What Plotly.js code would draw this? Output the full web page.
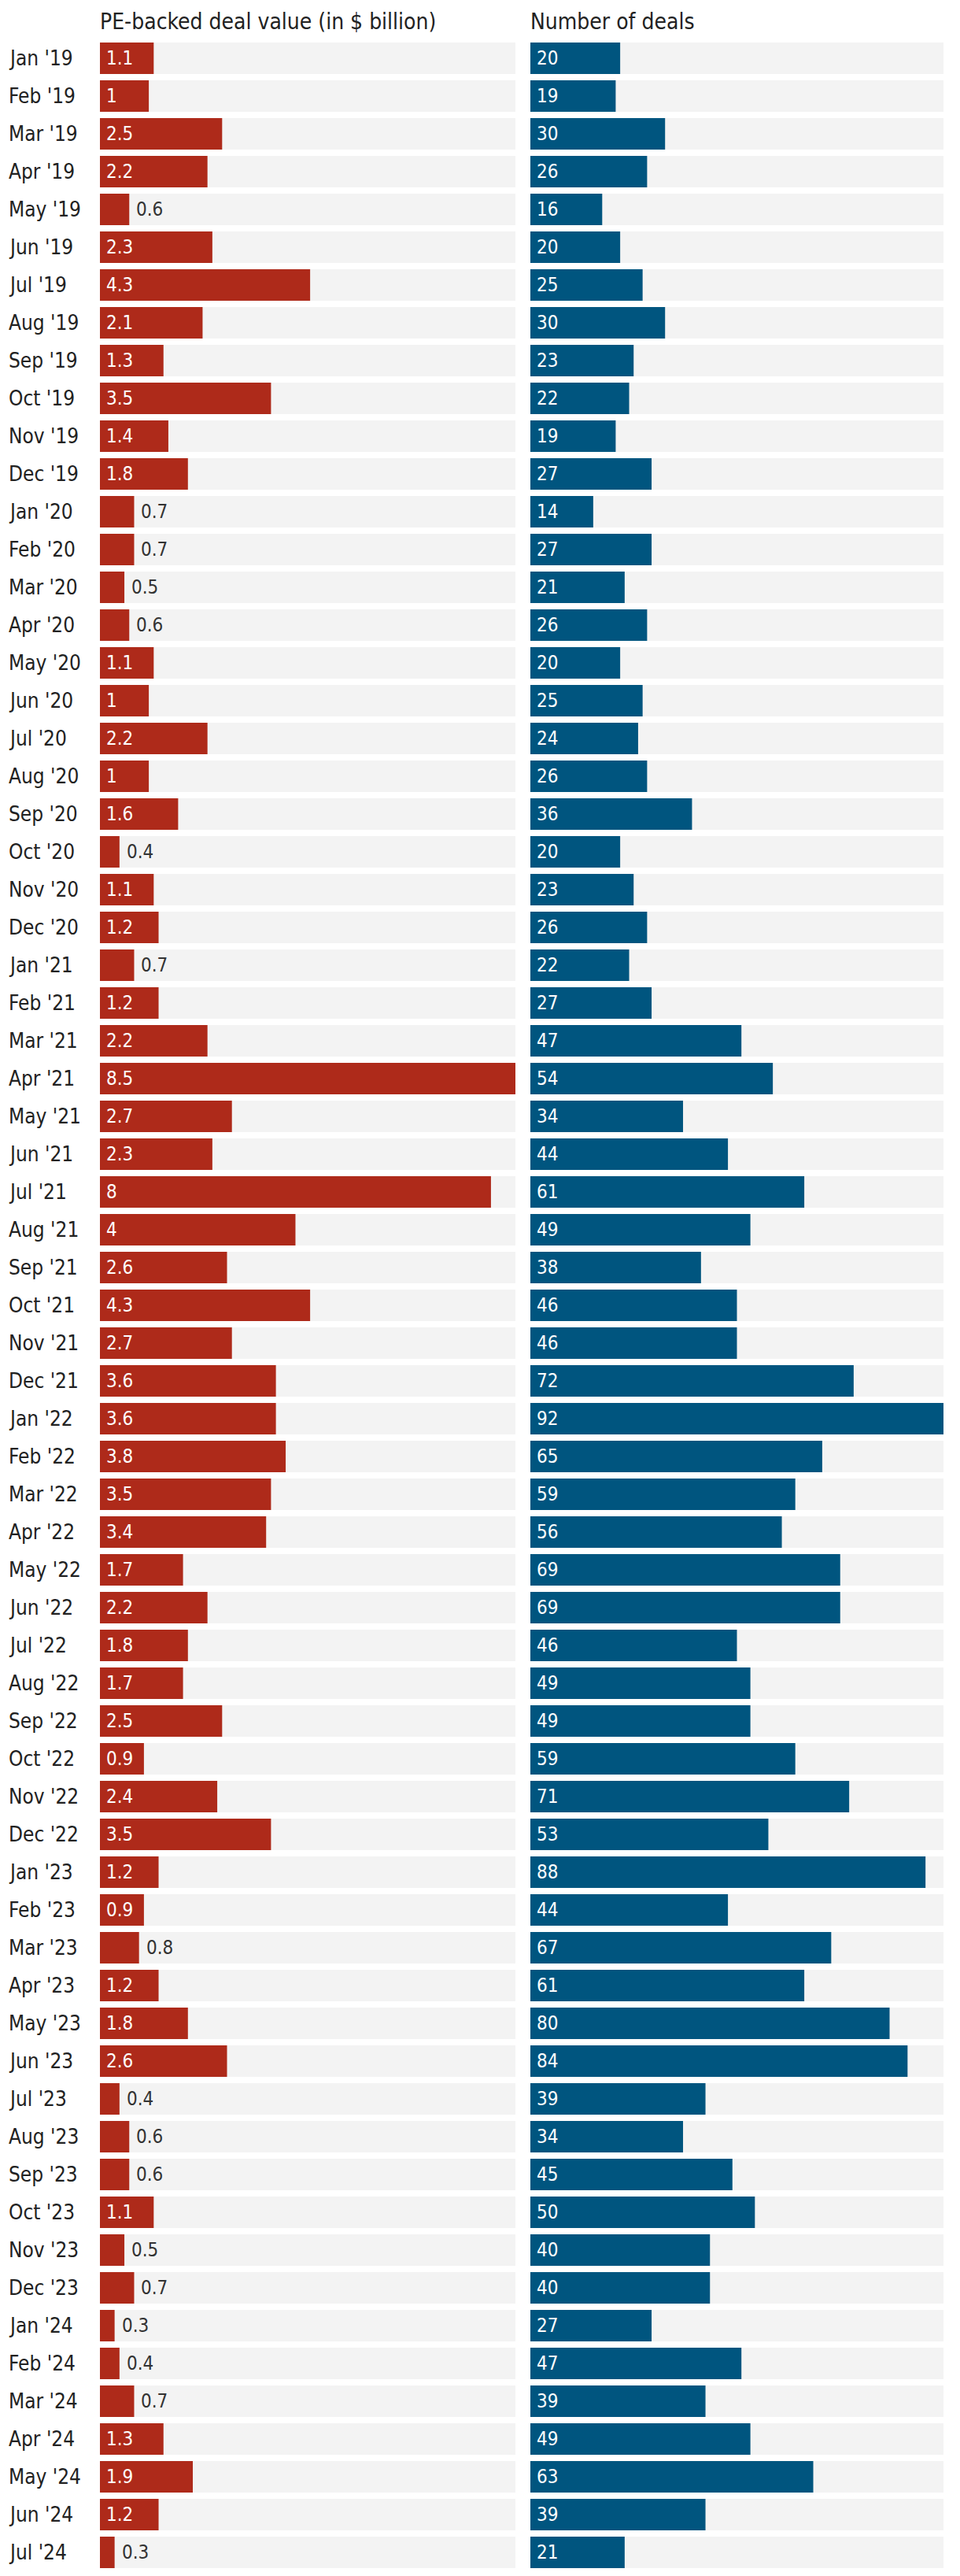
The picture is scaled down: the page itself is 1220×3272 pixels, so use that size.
<!DOCTYPE html>
<html>
<head>
<meta charset="utf-8">
<script src="https://cdn.plot.ly/plotly-3.0.1.min.js"></script>
<style>
  html, body { margin: 0; padding: 0; background: #ffffff; }
  #chart { width: 1220px; height: 3272px; }
</style>
</head>
<body>
<div id="chart"></div>
<script>
// ---- Data ----
const months = [
  "Jan '19","Feb '19","Mar '19","Apr '19","May '19","Jun '19","Jul '19","Aug '19","Sep '19","Oct '19","Nov '19","Dec '19",
  "Jan '20","Feb '20","Mar '20","Apr '20","May '20","Jun '20","Jul '20","Aug '20","Sep '20","Oct '20","Nov '20","Dec '20",
  "Jan '21","Feb '21","Mar '21","Apr '21","May '21","Jun '21","Jul '21","Aug '21","Sep '21","Oct '21","Nov '21","Dec '21",
  "Jan '22","Feb '22","Mar '22","Apr '22","May '22","Jun '22","Jul '22","Aug '22","Sep '22","Oct '22","Nov '22","Dec '22",
  "Jan '23","Feb '23","Mar '23","Apr '23","May '23","Jun '23","Jul '23","Aug '23","Sep '23","Oct '23","Nov '23","Dec '23",
  "Jan '24","Feb '24","Mar '24","Apr '24","May '24","Jun '24","Jul '24"
];

const dealValue = [
  1.1, 1, 2.5, 2.2, 0.6, 2.3, 4.3, 2.1, 1.3, 3.5, 1.4, 1.8,
  0.7, 0.7, 0.5, 0.6, 1.1, 1, 2.2, 1, 1.6, 0.4, 1.1, 1.2,
  0.7, 1.2, 2.2, 8.5, 2.7, 2.3, 8, 4, 2.6, 4.3, 2.7, 3.6,
  3.6, 3.8, 3.5, 3.4, 1.7, 2.2, 1.8, 1.7, 2.5, 0.9, 2.4, 3.5,
  1.2, 0.9, 0.8, 1.2, 1.8, 2.6, 0.4, 0.6, 0.6, 1.1, 0.5, 0.7,
  0.3, 0.4, 0.7, 1.3, 1.9, 1.2, 0.3
];

const dealCount = [
  20, 19, 30, 26, 16, 20, 25, 30, 23, 22, 19, 27,
  14, 27, 21, 26, 20, 25, 24, 26, 36, 20, 23, 26,
  22, 27, 47, 54, 34, 44, 61, 49, 38, 46, 46, 72,
  92, 65, 59, 56, 69, 69, 46, 49, 49, 59, 71, 53,
  88, 44, 67, 61, 80, 84, 39, 34, 45, 50, 40, 40,
  27, 47, 39, 49, 63, 39, 21
];

const titleValue = "PE-backed deal value (in $ billion)";
const titleCount = "Number of deals";

// ---- Styling ----
const FONT = "'Liberation Sans Narrow', 'DejaVu Sans Condensed', 'Roboto', sans-serif";
const RED = "#ae2a1a";
const BLUE = "#00557f";
const TRACK = "#f3f3f3";
const TEXT = "#222222";
const W = 1220;

const maxValue = Math.max(...dealValue);
const maxCount = Math.max(...dealCount);
const insideMin = 0.9; // values below this are labelled outside the bar

const traces = [
  { type: "bar", orientation: "h", y: months, x: months.map(() => maxValue),
    xaxis: "x", yaxis: "y", marker: { color: TRACK }, hoverinfo: "skip", showlegend: false },
  { type: "bar", orientation: "h", y: months, x: dealValue,
    xaxis: "x", yaxis: "y", marker: { color: RED }, showlegend: false },
  { type: "bar", orientation: "h", y: months, x: months.map(() => maxCount),
    xaxis: "x2", yaxis: "y", marker: { color: TRACK }, hoverinfo: "skip", showlegend: false },
  { type: "bar", orientation: "h", y: months, x: dealCount,
    xaxis: "x2", yaxis: "y", marker: { color: BLUE }, showlegend: false }
];

const annotations = [];
months.forEach((m, i) => {
  annotations.push({
    xref: "paper", yref: "y", x: 9 / W, y: m, xanchor: "left", yanchor: "middle",
    text: m, showarrow: false, font: { family: FONT, size: 26, color: TEXT }
  });
  const v = dealValue[i];
  const inside = v >= insideMin;
  annotations.push({
    xref: "x", yref: "y", x: inside ? 0 : v, y: m, xanchor: "left", yanchor: "middle",
    xshift: inside ? 6 : 7, text: String(v), showarrow: false,
    font: { family: FONT, size: 24, color: inside ? "#ffffff" : "#333333" }
  });
  annotations.push({
    xref: "x2", yref: "y", x: 0, y: m, xanchor: "left", yanchor: "middle",
    xshift: 6, text: String(dealCount[i]), showarrow: false,
    font: { family: FONT, size: 24, color: "#ffffff" }
  });
});

annotations.push({
  xref: "paper", yref: "paper", x: 125 / W, y: 1, xanchor: "left", yanchor: "bottom",
  yshift: 4, text: titleValue, showarrow: false, font: { family: FONT, size: 28, color: TEXT }
});
annotations.push({
  xref: "paper", yref: "paper", x: 672 / W, y: 1, xanchor: "left", yanchor: "bottom",
  yshift: 4, text: titleCount, showarrow: false, font: { family: FONT, size: 28, color: TEXT }
});

const layout = {
  width: 1220, height: 3272,
  margin: { l: 0, r: 0, t: 50, b: 6, pad: 0 },
  paper_bgcolor: "#ffffff", plot_bgcolor: "#ffffff",
  barmode: "overlay", bargap: 8 / 48,
  font: { family: FONT, color: TEXT },
  xaxis: { domain: [127 / W, 655 / W], range: [0, maxValue], visible: false, fixedrange: true },
  xaxis2: { domain: [674 / W, 1199 / W], range: [0, maxCount], visible: false, fixedrange: true, anchor: "y" },
  yaxis: { type: "category", autorange: "reversed", visible: false, fixedrange: true },
  annotations: annotations,
  showlegend: false
};

Plotly.newPlot("chart", traces, layout, { displayModeBar: false, staticPlot: true });
</script>
</body>
</html>
